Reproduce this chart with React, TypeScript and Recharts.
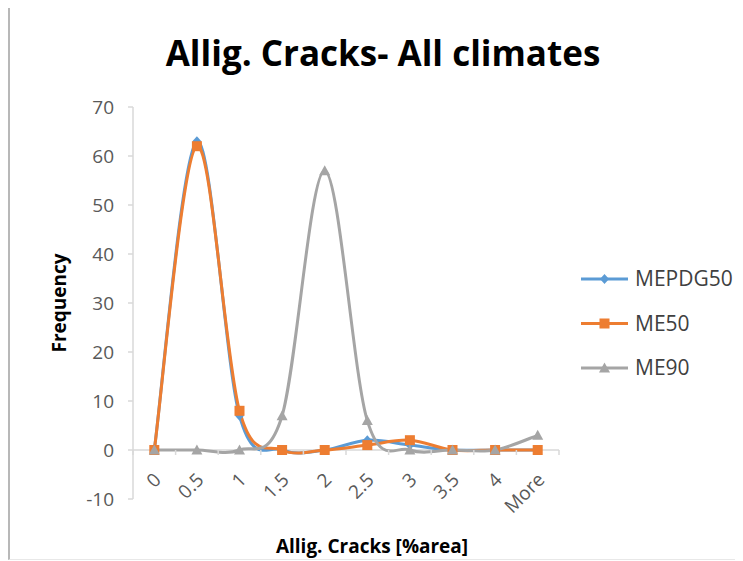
import React from 'react';
import { LineChart, Line, XAxis, YAxis, Legend, ReferenceLine } from 'recharts';

// histogram bins and counts per model
const categories = ['0', '0.5', '1', '1.5', '2', '2.5', '3', '3.5', '4', 'More'];
const mepdg50 = [0, 63, 7, 0, 0, 2, 1, 0, 0, 0];
const me50 = [0, 62, 8, 0, 0, 1, 2, 0, 0, 0];
const me90 = [0, 0, 0, 7, 57, 6, 0, 0, 0, 3];
const yTicks = [-10, 0, 10, 20, 30, 40, 50, 60, 70];

const data = categories.map((bin, i) => ({
  bin,
  MEPDG50: mepdg50[i],
  ME50: me50[i],
  ME90: me90[i],
}));

const FONT = '"Open Sans", Lato, sans-serif';
const BLUE = '#5B9BD5';
const ORANGE = '#ED7D31';
const GRAY = '#A5A5A5';
const AXIS = '#d9d9d9';

const CHART_W = 735;
const CHART_H = 553;
const MARGIN = { top: 102, right: 184, bottom: 58, left: 65 };
const Y_AXIS_W = 60;
const X_AXIS_H = 1;
const PLOT_H = CHART_H - MARGIN.top - MARGIN.bottom - X_AXIS_H;
const PLOT_W = CHART_W - MARGIN.left - Y_AXIS_W - MARGIN.right;
const BAND = PLOT_W / categories.length;
const Y_MIN = -10;
const Y_MAX = 70;
// horizontal axis sits at y = 0, not at the bottom of the plot
const ZERO_Y = MARGIN.top + (PLOT_H * Y_MAX) / (Y_MAX - Y_MIN);

// smoothed line like a spreadsheet "smoothed line" (Catmull-Rom through each point)
const smoothCurve = (context: any) => {
  let pts: number[][] = [];
  return {
    areaStart() {},
    areaEnd() {},
    lineStart() {
      pts = [];
    },
    point(x: number, y: number) {
      pts.push([+x, +y]);
    },
    lineEnd() {
      const n = pts.length;
      if (!n) return;
      context.moveTo(pts[0][0], pts[0][1]);
      for (let i = 0; i < n - 1; i++) {
        const p0 = pts[Math.max(i - 1, 0)];
        const p1 = pts[i];
        const p2 = pts[i + 1];
        const p3 = pts[Math.min(i + 2, n - 1)];
        context.bezierCurveTo(
          p1[0] + (p2[0] - p0[0]) / 6,
          p1[1] + (p2[1] - p0[1]) / 6,
          p2[0] - (p3[0] - p1[0]) / 6,
          p2[1] - (p3[1] - p1[1]) / 6,
          p2[0],
          p2[1]
        );
      }
    },
  };
};

const Diamond = ({ cx, cy, color }: any) => (
  <polygon points={`${cx},${cy - 5} ${cx + 4.5},${cy} ${cx},${cy + 5} ${cx - 4.5},${cy}`} fill={color} />
);
const Square = ({ cx, cy, color }: any) => (
  <rect x={cx - 5} y={cy - 5} width={10} height={10} fill={color} />
);
const Triangle = ({ cx, cy, color }: any) => (
  <polygon points={`${cx},${cy - 5.5} ${cx + 5.5},${cy + 4.5} ${cx - 5.5},${cy + 4.5}`} fill={color} />
);

const markers: Record<string, any> = { MEPDG50: Diamond, ME50: Square, ME90: Triangle };

const makeDot = (name: string, color: string) => (props: any) => {
  const M = markers[name];
  return <M key={`${name}-${props.index}`} cx={props.cx} cy={props.cy} color={color} />;
};

// category labels drawn along the zero line, rotated 45 degrees
const BinTick = ({ x, payload, index }: any) => {
  const ax = x + 8;
  const ay = ZERO_Y + 31;
  return (
    <g>
      <line x1={x + BAND / 2} x2={x + BAND / 2} y1={ZERO_Y} y2={ZERO_Y + 5} stroke={AXIS} strokeWidth={1.5} />
      {index === 0 && (
        <line x1={x - BAND / 2} x2={x - BAND / 2} y1={ZERO_Y} y2={ZERO_Y + 5} stroke={AXIS} strokeWidth={1.5} />
      )}
      <text
        x={ax}
        y={ay}
        transform={`rotate(-45, ${ax}, ${ay})`}
        textAnchor="end"
        fontSize={19}
        fontFamily={FONT}
        fill="#595959"
      >
        {payload.value}
      </text>
    </g>
  );
};

const series = [
  { name: 'MEPDG50', color: BLUE },
  { name: 'ME50', color: ORANGE },
  { name: 'ME90', color: GRAY },
];

const LegendBox = () => (
  <svg width={175} height={140}>
    {series.map((s, i) => {
      const y = 20 + i * 44.5;
      const M = markers[s.name];
      return (
        <g key={s.name}>
          <line x1={6} x2={53} y1={y} y2={y} stroke={s.color} strokeWidth={3} />
          <M cx={29.5} cy={y} color={s.color} />
          <text x={60} y={y + 7} fontSize={21} fontFamily={FONT} fill="#404040">
            {s.name}
          </text>
        </g>
      );
    })}
  </svg>
);

const App = () => (
  <div style={{ position: 'relative', width: 743, height: 561 }}>
    <div
      style={{
        position: 'absolute',
        left: 0,
        top: -3,
        width: 760,
        height: 555,
        borderTop: '2px solid #b8b8b8',
        borderLeft: '2px solid #b8b8b8',
        borderBottom: '1px solid #e8e8e8',
        boxSizing: 'border-box',
      }}
    />
    <div style={{ position: 'absolute', left: 0, top: -3, width: CHART_W, height: CHART_H }}>
      <LineChart width={CHART_W} height={CHART_H} data={data} margin={MARGIN}>
        <XAxis
          dataKey="bin"
          height={X_AXIS_H}
          axisLine={false}
          tickLine={false}
          interval={0}
          padding={{ left: BAND / 2, right: BAND / 2 }}
          tick={<BinTick />}
        />
        <YAxis
          width={Y_AXIS_W}
          domain={[Y_MIN, Y_MAX]}
          ticks={yTicks}
          interval={0}
          axisLine={{ stroke: AXIS, strokeWidth: 1.5 }}
          tickLine={{ stroke: AXIS, strokeWidth: 1.5 }}
          tickSize={5}
          tickMargin={14}
          tick={{ fontSize: 19, fontFamily: FONT, fill: '#595959' }}
        />
        <ReferenceLine y={0} stroke={AXIS} strokeWidth={1.5} />
        {series.map((s) => (
          <Line
            key={s.name}
            dataKey={s.name}
            type={smoothCurve as any}
            stroke={s.color}
            strokeWidth={3}
            dot={makeDot(s.name, s.color)}
            activeDot={false}
            isAnimationActive={false}
          />
        ))}
        <Legend
          layout="vertical"
          align="center"
          verticalAlign="middle"
          content={<LegendBox />}
          wrapperStyle={{ position: 'absolute', left: 567, top: 254, width: 175 }}
        />
      </LineChart>
      <div
        style={{
          position: 'absolute',
          left: 375,
          top: 47,
          transform: 'translate(-50%, -50%)',
          whiteSpace: 'nowrap',
          fontFamily: FONT,
          fontWeight: 'bold',
          fontSize: 35,
          color: '#000',
        }}
      >
        Allig. Cracks- All climates
      </div>
      <div
        style={{
          position: 'absolute',
          left: 51,
          top: 298,
          transform: 'translate(-50%, -50%) rotate(-90deg)',
          whiteSpace: 'nowrap',
          fontFamily: FONT,
          fontWeight: 'bold',
          fontSize: 19,
          color: '#000',
        }}
      >
        Frequency
      </div>
      <div
        style={{
          position: 'absolute',
          left: 364,
          top: 541,
          transform: 'translate(-50%, -50%)',
          whiteSpace: 'nowrap',
          fontFamily: FONT,
          fontWeight: 'bold',
          fontSize: 19,
          color: '#000',
        }}
      >
        Allig. Cracks [%area]
      </div>
    </div>
  </div>
);

export default App;
